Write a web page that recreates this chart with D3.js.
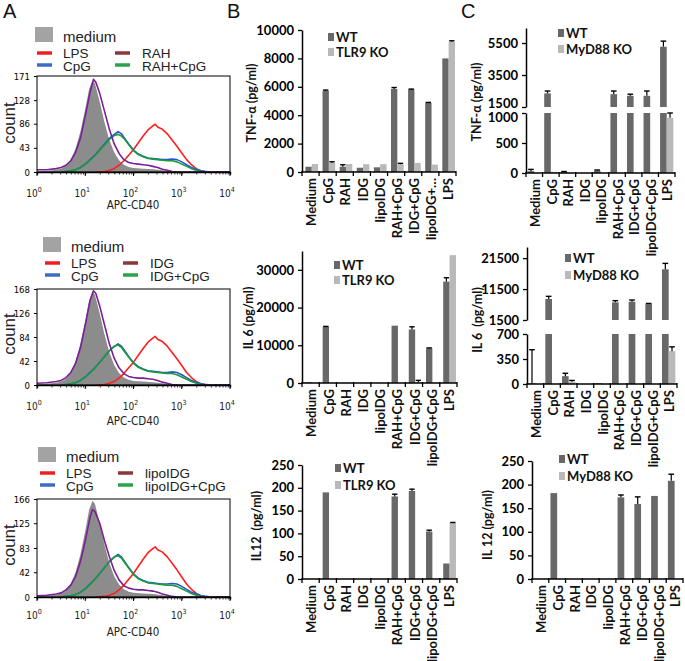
<!DOCTYPE html>
<html><head><meta charset="utf-8">
<script src="https://cdn.jsdelivr.net/npm/d3@7"></script>
<style>body{margin:0;background:#fff}svg{display:block}</style>
</head><body><svg id="c" width="685" height="661"></svg>
<script>
// ================= DATA =================
const categories = ["Medium","CpG","RAH","IDG","lipoIDG","RAH+CpG","IDG+CpG","lipoIDG+CpG","LPS"];
const categoriesShort = ["Medium","CpG","RAH","IDG","lipoIDG","RAH+CpG","IDG+CpG","lipoIDG+…","LPS"];

// B: TLR9 KO
const tnfB_WT    = [370, 5720, 370, 300, 330, 5850, 5820, 4880, 8000];
const tnfB_WTerr = [0, 50, 140, 0, 0, 100, 20, 20, 0];
const tnfB_KO    = [560, 660, 560, 550, 550, 550, 640, 520, 9170];
const tnfB_KOerr = [0, 60, 0, 0, 0, 60, 0, 0, 70];

const il6B_WT    = [200, 14900, 0, 0, 0, 15200, 14200, 9200, 26900];
const il6B_WTerr = [0, 100, 0, 0, 0, 0, 700, 100, 1000];
const il6B_KO    = [0, 0, 0, 0, 0, 0, 200, 0, 33900];
const il6B_KOerr = [0, 0, 0, 0, 0, 0, 500, 0, 0];

const il12B_WT    = [0, 190, 0, 0, 0, 181, 193, 104, 34];
const il12B_WTerr = [0, 0, 0, 0, 0, 5, 4, 3, 0];
const il12B_KO    = [0, 0, 0, 0, 0, 0, 0, 0, 123];
const il12B_KOerr = [0, 0, 0, 0, 0, 0, 0, 0, 1];

// C: MyD88 KO
const tnfC_WT    = [30, 2350, 15, 0, 40, 2300, 2200, 2200, 5270];
const tnfC_WTerr = [30, 150, 10, 0, 10, 200, 100, 300, 350];
const tnfC_KO    = [0, 20, 0, 0, 0, 0, 0, 0, 920];
const tnfC_KOerr = [0, 0, 0, 0, 0, 0, 0, 0, 80];

const il6C_WT    = [10, 8300, 110, 0, 10, 7200, 7400, 6650, 17900];
const il6C_WTerr = [470, 850, 40, 0, 0, 550, 550, 200, 1900];
const il6C_KO    = [0, 0, 30, 0, 0, 0, 0, 0, 460];
const il6C_KOerr = [0, 0, 20, 0, 0, 0, 0, 0, 60];

const il12C_WT    = [0, 182, 0, 0, 0, 173, 159, 176, 208];
const il12C_WTerr = [0, 0, 0, 0, 0, 5, 15, 0, 14];
const il12C_KO    = [0, 0, 0, 0, 0, 0, 0, 0, 0];
const il12C_KOerr = [0, 0, 0, 0, 0, 0, 0, 0, 0];

// A: flow histograms, [log10(APC-CD40), count]
const histMedium = [[0,1],[0.2,2],[0.4,4],[0.5,6],[0.6,11],[0.7,22],[0.8,42],[0.9,72],[1.0,112],[1.08,148],[1.15,163],[1.2,158],[1.3,125],[1.4,88],[1.5,57],[1.6,35],[1.7,21],[1.8,13],[1.9,9],[2.0,7],[2.2,6],[2.4,5],[2.6,3],[2.8,1],[3.0,0],[4,0]];
const histLPS = [[1.2,0],[1.4,1],[1.5,3],[1.6,6],[1.7,12],[1.8,20],[1.9,30],[2.0,40],[2.1,52],[2.2,64],[2.3,75],[2.4,82],[2.45,85],[2.5,80],[2.6,76],[2.7,68],[2.8,57],[2.9,46],[3.0,34],[3.1,22],[3.2,13],[3.3,6],[3.4,2],[3.5,0]];
const histCpG = [[0.5,0],[0.6,1],[0.7,2],[0.8,4],[0.9,8],[1.0,14],[1.1,22],[1.2,30],[1.3,40],[1.4,50],[1.5,60],[1.6,67],[1.68,72],[1.75,68],[1.8,62],[1.9,50],[2.0,39],[2.1,32],[2.2,28],[2.3,25],[2.4,24],[2.5,23],[2.6,22],[2.7,22],[2.8,23],[2.9,22],[3.0,18],[3.1,13],[3.2,8],[3.3,5],[3.4,2],[3.5,1],[3.6,0],[4,0]];
const histRAH = [[0,4],[0.2,4],[0.4,6],[0.5,8],[0.6,12],[0.7,20],[0.8,35],[0.9,60],[1.0,100],[1.1,142],[1.17,165],[1.22,160],[1.3,140],[1.4,108],[1.5,76],[1.6,50],[1.7,33],[1.8,22],[1.9,17],[2.0,15],[2.1,14],[2.2,13],[2.3,12],[2.4,10],[2.5,8],[2.6,5],[2.7,3],[2.8,1],[2.9,0],[4,0]];
const histRAHCpG = [[0.5,0],[0.6,1],[0.7,2],[0.8,4],[0.9,8],[1.0,14],[1.1,21],[1.2,29],[1.3,39],[1.4,48],[1.5,58],[1.6,65],[1.68,67],[1.75,64],[1.8,60],[1.9,49],[2.0,38],[2.1,31],[2.2,27],[2.3,24],[2.4,23],[2.5,22],[2.6,21],[2.7,20],[2.8,20],[2.9,18],[3.0,14],[3.1,10],[3.2,6],[3.3,3],[3.4,1],[3.5,0],[4,0]];
const histIDG = [[0,3],[0.2,4],[0.4,6],[0.5,8],[0.6,13],[0.7,22],[0.8,38],[0.9,65],[1.0,105],[1.1,148],[1.17,165],[1.22,160],[1.3,138],[1.4,105],[1.5,72],[1.6,47],[1.7,30],[1.8,20],[1.9,15],[2.0,13],[2.1,12],[2.2,12],[2.3,11],[2.4,10],[2.5,8],[2.6,5],[2.7,3],[2.8,1],[2.9,0],[4,0]];
const histIDGCpG = [[0.5,0],[0.6,1],[0.7,2],[0.8,4],[0.9,8],[1.0,14],[1.1,21],[1.2,30],[1.3,40],[1.4,50],[1.5,60],[1.6,68],[1.68,70],[1.75,66],[1.8,60],[1.9,49],[2.0,38],[2.1,31],[2.2,27],[2.3,24],[2.4,23],[2.5,22],[2.6,21],[2.7,20],[2.8,20],[2.9,18],[3.0,14],[3.1,10],[3.2,6],[3.3,3],[3.4,1],[3.5,0],[4,0]];
const histLipoIDG = [[0,2],[0.2,3],[0.4,5],[0.5,7],[0.6,12],[0.7,20],[0.8,35],[0.9,60],[1.0,95],[1.1,135],[1.15,148],[1.2,145],[1.3,125],[1.4,95],[1.5,68],[1.6,45],[1.7,29],[1.8,19],[1.9,15],[2.0,13],[2.1,12],[2.2,12],[2.3,11],[2.4,10],[2.5,8],[2.6,5],[2.7,3],[2.8,1],[2.9,0],[4,0]];
const histLipoIDGCpG = [[0.5,0],[0.6,1],[0.7,2],[0.8,4],[0.9,8],[1.0,14],[1.1,21],[1.2,30],[1.3,40],[1.4,50],[1.5,60],[1.6,68],[1.68,70],[1.75,66],[1.8,60],[1.9,49],[2.0,38],[2.1,31],[2.2,27],[2.3,24],[2.4,23],[2.5,22],[2.6,21],[2.7,20],[2.8,20],[2.9,18],[3.0,14],[3.1,10],[3.2,6],[3.3,3],[3.4,1],[3.5,0],[4,0]];

const histYTicks1 = [0,43,86,128,171];
const histYTicks2 = [0,42,84,126,168];
const histYTicks3 = [0,42,83,125,166];
const histXTicks = [0,1,2,3,4];

// ================= DRAW =================
const svg = d3.select("#c");
const BAR_FONT = "Lato, 'Open Sans', sans-serif";
const NARROW = "'Liberation Sans Narrow','DejaVu Sans Condensed',sans-serif";
const SANS = "'Liberation Sans', Arial, sans-serif";
const WT_COL = "#686868", KO_COL = "#b9b9b9";

function letter(t, x, y){
  svg.append("text").attr("x",x).attr("y",y).text(t)
    .attr("font-family",SANS).attr("font-size",20).attr("fill","#111");
}
letter("A",3,18); letter("B",227,18); letter("C",461,18);

function drawHist(p){
  const g = svg.append("g");
  const x = d3.scaleLog().domain([1,1e4]).range([37,230]);
  const y = d3.scaleLinear().domain([0,p.ymax]).range([p.bottom,p.top]);
  const lx = d => x(Math.pow(10,d[0]));
  g.append("path").datum(histMedium)
    .attr("d", d3.area().x(lx).y0(y(0)).y1(d=>y(Math.min(d[1],p.ymax))))
    .attr("fill","#8c8c8c");
  const line = d3.line().x(lx).y(d=>y(d[1]));
  const curves = [[histLPS,"#ff1f1f"],[histCpG,"#2457d6"],[p.comb,"#1a9a3a"],[p.treat,"#7b1f94"]];
  curves.forEach(([d,c])=>{
    g.append("path").datum(d).attr("d",line).attr("fill","none")
      .attr("stroke",c).attr("stroke-width",1.6).attr("stroke-linejoin","round");
  });
  g.append("rect").attr("x",37).attr("y",p.top).attr("width",193).attr("height",p.bottom-p.top)
    .attr("fill","none").attr("stroke","#000").attr("stroke-width",1);
  const ya = g.append("g").attr("transform","translate(37,0)")
    .call(d3.axisLeft(y).tickValues(p.yticks).tickSize(3).tickFormat(d3.format("d")));
  ya.select(".domain").remove();
  ya.selectAll("text").attr("font-family",NARROW).attr("font-size",9.5).attr("fill","#000").attr("dx",-1);
  const minor = [];
  for (let k=0;k<4;k++) for (let m=1;m<10;m++) minor.push(m*Math.pow(10,k));
  minor.push(1e4);
  const xa = g.append("g").attr("transform",`translate(0,${p.bottom})`)
    .call(d3.axisBottom(x).tickValues(minor).tickSize(2.5).tickFormat(""));
  xa.select(".domain").attr("stroke","#000").attr("stroke-width",1.5);
  xa.selectAll(".tick line").attr("stroke-width",0.8);
  histXTicks.forEach(k=>{
    const xx = x(Math.pow(10,k));
    g.append("line").attr("x1",xx).attr("x2",xx).attr("y1",p.bottom).attr("y2",p.bottom+4).attr("stroke","#000");
    const t = g.append("text").attr("x",xx-3).attr("y",p.bottom+p.tickDy)
      .attr("text-anchor","middle").attr("font-family",NARROW).attr("font-size",10).attr("fill","#222");
    t.append("tspan").text("10");
    t.append("tspan").text(k).attr("font-size",7).attr("dy",-5);
  });
  g.append("text").attr("x",133).attr("y",p.bottom+p.labDy).attr("text-anchor","middle")
    .attr("font-family",NARROW).attr("font-size",11.5).attr("fill","#222").text("APC-CD40");
  g.append("text").attr("transform",`translate(15,${p.countY}) rotate(-90)`).attr("text-anchor","middle")
    .attr("font-family",SANS).attr("font-size",17).attr("fill","#222").text("count");
  const L = p.leg;
  g.append("rect").attr("x",L.x).attr("y",L.y).attr("width",18).attr("height",15).attr("fill","#a3a3a3");
  const txt = (s,xx,yy,fs)=>g.append("text").attr("x",xx).attr("y",yy).text(s)
    .attr("font-family",SANS).attr("font-size",fs).attr("fill","#222");
  txt("medium", L.x+28, L.y+15, 15);
  const seg = (xx,yy,c)=>g.append("line").attr("x1",xx).attr("x2",xx+15).attr("y1",yy).attr("y2",yy)
    .attr("stroke",c).attr("stroke-width",3.5);
  seg(L.x+2, L.y+26, "#f01f1f"); txt("LPS", L.x+28, L.y+30.5, 13.5);
  seg(L.x+2, L.y+38, "#3a6ec2"); txt("CpG", L.x+28, L.y+43.5, 13.5);
  seg(L.x+80, L.y+26, "#8a3838"); txt(p.treatName, L.x+107, L.y+30.5, 13.5);
  seg(L.x+80, L.y+38, "#2aa34a"); txt(p.treatName+"+CpG", L.x+107, L.y+43.5, 13.5);
}

drawHist({top:76, bottom:172, ymax:171, yticks:histYTicks1, treat:histRAH, comb:histRAHCpG, treatName:"RAH",
  tickDy:25, labDy:37, countY:123, leg:{x:35,y:27}});
drawHist({top:289, bottom:385, ymax:168, yticks:histYTicks2, treat:histIDG, comb:histIDGCpG, treatName:"IDG",
  tickDy:25, labDy:40, countY:334, leg:{x:43,y:237}});
drawHist({top:499, bottom:597, ymax:166, yticks:histYTicks3, treat:histLipoIDG, comb:histLipoIDGCpG, treatName:"lipoIDG",
  tickDy:22, labDy:39, countY:545, leg:{x:38,y:447}});

function drawBars(c){
  const g = svg.append("g");
  const band = d3.scaleBand().domain(d3.range(9)).range([c.x0,c.x1]);
  const bw = band.bandwidth();
  const segs = c.segs.map(s=>({...s, sc:d3.scaleLinear().domain(s.domain).range(s.range)}));
  const low = segs[0], up = segs[1];
  function drawBar(i, v, err, xOff, col){
    if (v<=0 && err<=0) return;
    const bx = band(i)+bw*xOff, w = bw*c.bw;
    const lv = Math.min(v, low.domain[1]);
    g.append("rect").attr("x",bx).attr("y",low.sc(lv)).attr("width",w)
      .attr("height",low.sc(0)-low.sc(lv)).attr("fill",col);
    let sc = low.sc;
    if (up && v>up.domain[0]){
      g.append("rect").attr("x",bx).attr("y",up.sc(v)).attr("width",w)
        .attr("height",up.sc(up.domain[0])-up.sc(v)).attr("fill",col);
      sc = up.sc;
    }
    if (err>0){
      const cx = bx+w/2;
      g.append("line").attr("x1",cx).attr("x2",cx).attr("y1",sc(v)).attr("y2",sc(v+err)).attr("stroke","#000").attr("stroke-width",1.2);
      g.append("line").attr("x1",bx+0.5).attr("x2",bx+w-0.5).attr("y1",sc(v+err)).attr("y2",sc(v+err)).attr("stroke","#000").attr("stroke-width",1.4);
    }
  }
  for (let i=0;i<9;i++){
    drawBar(i, c.wt[i], c.wtErr[i], c.off, WT_COL);
    drawBar(i, c.ko[i], c.koErr[i], c.off+c.bw, KO_COL);
  }
  segs.forEach((s,si)=>{
    const a = g.append("g").attr("transform",`translate(${c.x0},0)`)
      .call(d3.axisLeft(s.sc).tickValues(s.ticks).tickSize(4).tickSizeOuter(0).tickFormat(d3.format("d")));
    a.select(".domain").attr("stroke","#000").attr("stroke-width",1.5);
    a.selectAll(".tick line").attr("stroke-width",1.3);
    a.selectAll("text").attr("font-family",BAR_FONT).attr("font-weight",700).attr("font-size",13).attr("fill","#000").attr("dx",-1);
    if (c.nudge){
      // separate the two labels that meet at the axis break
      a.selectAll(".tick").filter(d=>d===s.domain[si===0?1:0]).select("text")
        .attr("dy", si===0 ? "0.62em" : "0.02em");
    }
  });
  const by = low.range[0];
  g.append("line").attr("x1",c.x0).attr("x2",c.x1).attr("y1",by).attr("y2",by).attr("stroke","#000").attr("stroke-width",1.5);
  for (let i=0;i<=9;i++){
    const xx = c.x0 + i*bw;
    g.append("line").attr("x1",xx).attr("x2",xx).attr("y1",by-1).attr("y2",by+4).attr("stroke","#000").attr("stroke-width",1.3);
  }
  c.labels.forEach((l,i)=>{
    g.append("text").attr("transform",`translate(${band(i)+bw/2+1},${by+6}) rotate(-90)`)
      .attr("text-anchor","end").attr("dy","0.36em").text(l)
      .attr("font-family",BAR_FONT).attr("font-weight",700).attr("font-size",13).attr("fill","#111");
  });
  g.append("text").attr("transform",`translate(${c.yl[0]},${c.yl[1]}) rotate(-90)`).attr("text-anchor","middle")
    .attr("dy","0.35em").text(c.ylabel).attr("xml:space","preserve")
    .attr("font-family",BAR_FONT).attr("font-weight",700).attr("font-size",12.5).attr("fill","#111");
  [[ "WT", WT_COL, c.leg[1]], [c.koName, KO_COL, c.leg[2]]].forEach(([t,col,yy])=>{
    g.append("rect").attr("x",c.leg[0]).attr("y",yy-4).attr("width",6).attr("height",8).attr("fill",col);
    g.append("text").attr("x",c.leg[0]+8).attr("y",yy).attr("dy","0.36em").text(t)
      .attr("font-family",BAR_FONT).attr("font-weight",700).attr("font-size",13).attr("fill","#111");
  });
}

drawBars({x0:302, x1:456, off:0.2, bw:0.37, labels:categoriesShort,
  segs:[{domain:[0,10000], range:[172,30], ticks:[0,2000,4000,6000,8000,10000]}],
  wt:tnfB_WT, wtErr:tnfB_WTerr, ko:tnfB_KO, koErr:tnfB_KOerr,
  ylabel:"TNF-α (pg/ml)", yl:[252,103], koName:"TLR9 KO", leg:[328,37,52]});
drawBars({x0:302, x1:457, off:0.2, bw:0.37, labels:categories,
  segs:[{domain:[0,35000], range:[383,251], ticks:[0,10000,20000,30000]}],
  wt:il6B_WT, wtErr:il6B_WTerr, ko:il6B_KO, koErr:il6B_KOerr,
  ylabel:"IL 6 (pg/ml)", yl:[249,318], koName:"TLR9 KO", leg:[334,265,280]});
drawBars({x0:302, x1:457, off:0.2, bw:0.37, labels:categories,
  segs:[{domain:[0,250], range:[579,465], ticks:[0,50,100,150,200,250]}],
  wt:il12B_WT, wtErr:il12B_WTerr, ko:il12B_KO, koErr:il12B_KOerr,
  ylabel:"IL12  (pg/ml)", yl:[257,526], koName:"TLR9 KO", leg:[335,468,485]});

drawBars({x0:526, x1:675, off:0.1, bw:0.4, labels:categories, nudge:true,
  segs:[{domain:[0,1000], range:[173,113], ticks:[0,500,1000]},
        {domain:[1500,6440], range:[107,28], ticks:[1500,3500,5500]}],
  wt:tnfC_WT, wtErr:tnfC_WTerr, ko:tnfC_KO, koErr:tnfC_KOerr,
  ylabel:"TNF-α (pg/ml)", yl:[477,102], koName:"MyD88 KO", leg:[558,33,49]});
drawBars({x0:527, x1:677, off:0.1, bw:0.4, labels:categories,
  segs:[{domain:[0,700], range:[384,334], ticks:[0,350,700]},
        {domain:[1500,25100], range:[320,247], ticks:[1500,11500,21500]}],
  wt:il6C_WT, wtErr:il6C_WTerr, ko:il6C_KO, koErr:il6C_KOerr,
  ylabel:"IL 6  (pg/ml)", yl:[478,320], koName:"MyD88 KO", leg:[565,258,275]});
drawBars({x0:532, x1:683, off:0.1, bw:0.4, labels:categories,
  segs:[{domain:[0,250], range:[579,461], ticks:[0,50,100,150,200,250]}],
  wt:il12C_WT, wtErr:il12C_WTerr, ko:il12C_KO, koErr:il12C_KOerr,
  ylabel:"IL 12 (pg/ml)", yl:[488,525], koName:"MyD88 KO", leg:[559,459,476]});
</script></body></html>
